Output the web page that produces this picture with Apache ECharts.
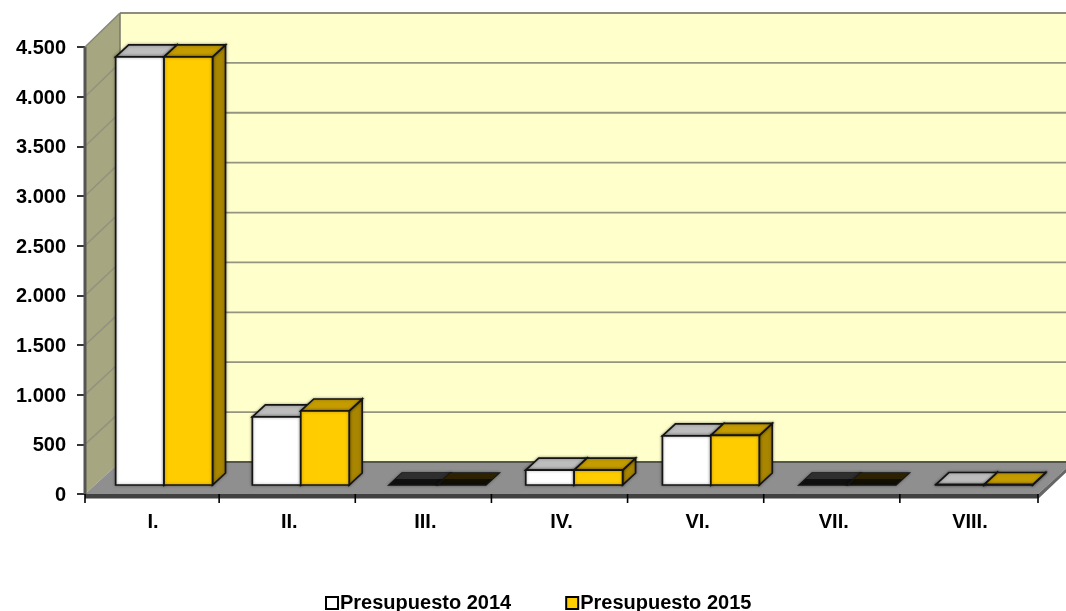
<!DOCTYPE html>
<html><head><meta charset="utf-8">
<style>html,body{margin:0;padding:0;background:#fff}#c{width:1066px;height:611px}</style>
<script src="https://cdn.jsdelivr.net/npm/echarts@6/dist/echarts.min.js"></script>
</head><body><div id="c"></div>
<script>
const categories = ['I.','II.','III.','IV.','VI.','VII.','VIII.'];
const values2014 = [4310, 685, 0, 150, 495, 0, 5];
const values2015 = [4310, 745, 0, 150, 500, 0, 5];
const gridValues = [500,1000,1500,2000,2500,3000,3500,4000];

const FONT = '"Liberation Sans", Arial, sans-serif';
const WALL = {dx:35, dy:-32, ys:1.0045};
const BAR  = {dx:11, dy:-9, sx:13, sy:-12, frac:0.3556, drift:0.55};

function poly(points, fill, stroke, lw, shadow){
  const style = {fill, stroke: stroke||null, lineWidth: lw||0};
  if (shadow) { style.shadowBlur = 3; style.shadowColor = 'rgba(0,0,0,0.35)'; }
  return {type:'polygon', shape:{points}, silent:true, style};
}
function line(a,b,stroke,lw){
  return {type:'line', shape:{x1:a[0],y1:a[1],x2:b[0],y2:b[1]}, silent:true,
    style:{stroke, lineWidth:lw, fill:null}};
}
function renderWalls(params, api){
  const x0 = params.coordSys.x, w = params.coordSys.width;
  const y0 = api.coord([0,0])[1], yF = api.coord([0,4500])[1];
  const x1 = x0 + w, D = WALL;
  const back = y => y0 + D.dy - (y0 - y)*D.ys;
  const yB = back(yF), yG = y0 + D.dy;
  const ch = [];
  ch.push(poly([[x0+D.dx,yB],[x1+D.dx,yB],[x1+D.dx,yG],[x0+D.dx,yG]],'#FFFFCC'));
  ch.push(poly([[x0,yF],[x0+D.dx,yB],[x0+D.dx,yG],[x0,y0]],'#A6A680'));
  ch.push(poly([[x0,y0],[x0+D.dx,yG],[x1+D.dx,yG],[x1,y0]],'#8F8F8F'));
  ch.push(poly([[x1,y0],[x1+D.dx,yG],[x1+D.dx,yG+4],[x1,y0+5]],'#666666'));
  ch.push(poly([[x0,y0],[x1,y0],[x1,y0+4.5],[x0,y0+4.5]],'#414141'));
  gridValues.forEach(v=>{
    const y = api.coord([0,v])[1], b = back(y);
    ch.push(line([x0,y],[x0+D.dx,b],'#92927E',1.5));
    ch.push(line([x0+D.dx,b],[x1+D.dx,b],'#949480',1.8));
  });
  ch.push(line([x0+D.dx,yB],[x1+D.dx,yB],'#8C8C80',2));
  ch.push(line([x0+D.dx,yB],[x0+D.dx,yG],'#777768',1.5));
  ch.push(line([x0+D.dx,yG],[x1+D.dx,yG],'#555550',2));
  ch.push(line([x0,yF],[x0,y0],'#555555',3));
  ch.push(line([x0,yF],[x0+D.dx,yB],'#888878',1.5));
  const cw = w/categories.length;
  for (let i = 0; i <= categories.length; i++) {
    const tx = (i === 0 || i === categories.length) ? x0 + i*cw : x0 + i*cw - 2;
    ch.push(line([tx,y0],[tx,y0+9],'#000',1.6));
  }
  return {type:'group', children:ch};
}
function makeBar(slot, front, top, side, zeroTop, zeroLow){
  return function(params, api){
    const c = api.value(0), v = api.value(1);
    const pBase = api.coord([c,0]), pTop = api.coord([c,v]);
    const bw = api.size([1,0])[0]*BAR.frac;
    const xl = pBase[0] - bw + slot*bw + BAR.dx + c*BAR.drift;
    const xr = xl + bw;
    const yb = pBase[1] + BAR.dy, yt = pTop[1] + BAR.dy;
    const S = '#141414', L = 1.7;
    const ch = [];
    if (v === 0) {
      const mx = BAR.sx/2, my = BAR.sy/2;
      ch.push(poly([[xl,yt],[xl+BAR.sx,yt+BAR.sy],[xr+BAR.sx,yt+BAR.sy],[xr,yt]],zeroLow,S,L,true));
      ch.push(poly([[xl+mx,yt+my],[xl+BAR.sx,yt+BAR.sy],[xr+BAR.sx,yt+BAR.sy],[xr+mx,yt+my]],zeroTop));
    } else {
      ch.push(poly([[xr,yt],[xr+BAR.sx,yt+BAR.sy],[xr+BAR.sx,yb+BAR.sy],[xr,yb]],side,S,L,true));
      ch.push(poly([[xl,yt],[xl+BAR.sx,yt+BAR.sy],[xr+BAR.sx,yt+BAR.sy],[xr,yt]],top,S,L,true));
      ch.push(poly([[xl,yt],[xr,yt],[xr,yb],[xl,yb]],front,S,L,true));
    }
    return {type:'group', children:ch};
  };
}
const chart = echarts.init(document.getElementById('c'), null, {renderer:'canvas'});
const axisText = {fontFamily:FONT, fontWeight:'bold', fontSize:20, color:'#000'};
chart.setOption({
  animation:false,
  backgroundColor:'#fff',
  grid:{left:85, top:47, width:953, height:447, containLabel:false},
  legend:{
    data:['Presupuesto 2014','Presupuesto 2015'], left:325, top:593, itemGap:54,
    itemWidth:12, itemHeight:12, icon:'rect', padding:0,
    textStyle:{fontFamily:FONT, fontWeight:'bold', fontSize:20, color:'#000', padding:[0,0,0,-3]}
  },
  xAxis:{type:'category', data:categories, boundaryGap:true,
    axisLine:{show:false},
    axisTick:{show:false},
    axisLabel:Object.assign({margin:18, interval:0}, axisText),
    splitLine:{show:false}},
  yAxis:{type:'value', min:0, max:4500, interval:500,
    axisLine:{show:false},
    axisTick:{show:true, length:8, lineStyle:{color:'#000', width:1.6}},
    axisLabel:Object.assign({margin:19,
      formatter:v=>'{a|'+(v>=1000?Math.floor(v/1000)+'.'+String(v%1000).padStart(3,'0'):String(v))+'}',
      rich:{a:Object.assign({padding:[3,0,0,0]}, axisText)}}, axisText),
    splitLine:{show:false}},
  series:[
    {type:'custom', name:'walls', silent:true, clip:false, z:1, renderItem:renderWalls, data:[[0,0]], encode:{x:0,y:1}},
    {type:'custom', name:'Presupuesto 2014', clip:false, z:2,
     itemStyle:{color:'#FFFFFF', borderColor:'#000', borderWidth:1.5},
     renderItem:makeBar(0,'#FFFFFF','#BDBDBD','#A0A0A0','#2E2E2E','#101010'),
     encode:{x:0,y:1}, data:values2014.map((v,i)=>[i,v])},
    {type:'custom', name:'Presupuesto 2015', clip:false, z:3,
     itemStyle:{color:'#FFCC00', borderColor:'#000', borderWidth:1.5},
     renderItem:makeBar(1,'#FFCC00','#C49C00','#A88600','#2C2200','#120E00'),
     encode:{x:0,y:1}, data:values2015.map((v,i)=>[i,v])}
  ]
});
</script></body></html>
